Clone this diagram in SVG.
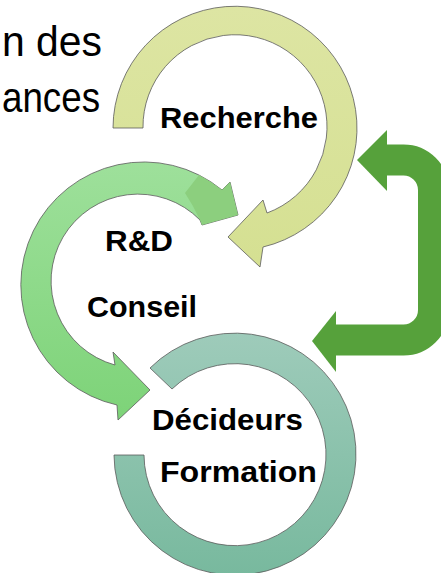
<svg xmlns="http://www.w3.org/2000/svg" width="441" height="573" viewBox="0 0 441 573">
  <defs>
    <linearGradient id="gYellow" x1="0" y1="0" x2="0" y2="1">
      <stop offset="0" stop-color="#dde5a3"/>
      <stop offset="1" stop-color="#d5e092"/>
    </linearGradient>
    <linearGradient id="gGreen" x1="0" y1="0" x2="0" y2="1">
      <stop offset="0" stop-color="#9ee09b"/>
      <stop offset="1" stop-color="#7dd378"/>
    </linearGradient>
    <linearGradient id="gTeal" x1="0" y1="0" x2="0" y2="1">
      <stop offset="0" stop-color="#9ecbba"/>
      <stop offset="1" stop-color="#78b99e"/>
    </linearGradient>
  </defs>
  <style>
    .ring { stroke: #5a5a5a; stroke-width: 0.8; stroke-linejoin: miter; }
    .lbl { font-family: "Liberation Sans", Arial, sans-serif; font-weight: bold; font-size: 30px; fill: #000; text-anchor: middle; }
    .big { font-family: "Liberation Sans", Arial, sans-serif; font-size: 43px; fill: #000; }
    .link { fill: none; stroke: #56a13b; stroke-width: 31; }
    .head { fill: #56a13b; }
  </style>

  <g id="titre">
    <text class="big" x="2" y="56" textLength="100" lengthAdjust="spacingAndGlyphs">n des</text>
    <text class="big" x="2" y="112" textLength="98" lengthAdjust="spacingAndGlyphs">ances</text>
  </g>

  <g id="decideurs-formation">
    <path class="ring" fill="url(#gTeal)" d="M 150 368 A 121 121 0 1 1 114 455 L 144 455 A 91 91 0 1 0 172 389 Z"/>
    <text class="lbl" x="227.5" y="430" textLength="151" lengthAdjust="spacingAndGlyphs">Décideurs</text>
    <text class="lbl" x="238.5" y="482" textLength="157" lengthAdjust="spacingAndGlyphs">Formation</text>
  </g>

  <g id="rd-conseil">
    <path class="ring" fill="url(#gGreen)" d="M 222 190 A 123 123 0 1 0 117 405 L 118 420 L 150 390 L 113 352 L 115 365 A 87 87 0 1 1 200 220 L 202 225 L 238 215 L 230 182 Z"/>
    <path fill="#8ccf7e" d="M 185 193 L 199 175 Q 212 182 222 190 L 230 182 L 238 215 L 202 225 L 200 220 Q 193 205 185 193 Z"/>
    <text class="lbl" x="139" y="251" textLength="68" lengthAdjust="spacingAndGlyphs">R&amp;D</text>
    <text class="lbl" x="142" y="317" textLength="110" lengthAdjust="spacingAndGlyphs">Conseil</text>
  </g>

  <g id="recherche">
    <path class="ring" fill="url(#gYellow)" d="M 113 128 A 122 122 0 1 1 263 247 L 260 267 L 228 237 L 263 200 L 267 213 A 92 92 0 1 0 143 128 Z"/>
    <text class="lbl" x="239" y="128" textLength="158" lengthAdjust="spacingAndGlyphs">Recherche</text>
  </g>

  <g id="connectors">
    <path class="link" d="M 386 160 H 403.5 A 30 30 0 0 1 433.5 190 V 310 A 30 30 0 0 1 403.5 340 H 335"/>
    <polygon class="head" points="357,160 387,130 387,191"/>
    <polygon class="head" points="312,341 336,311 336,372"/>
  </g>
</svg>
